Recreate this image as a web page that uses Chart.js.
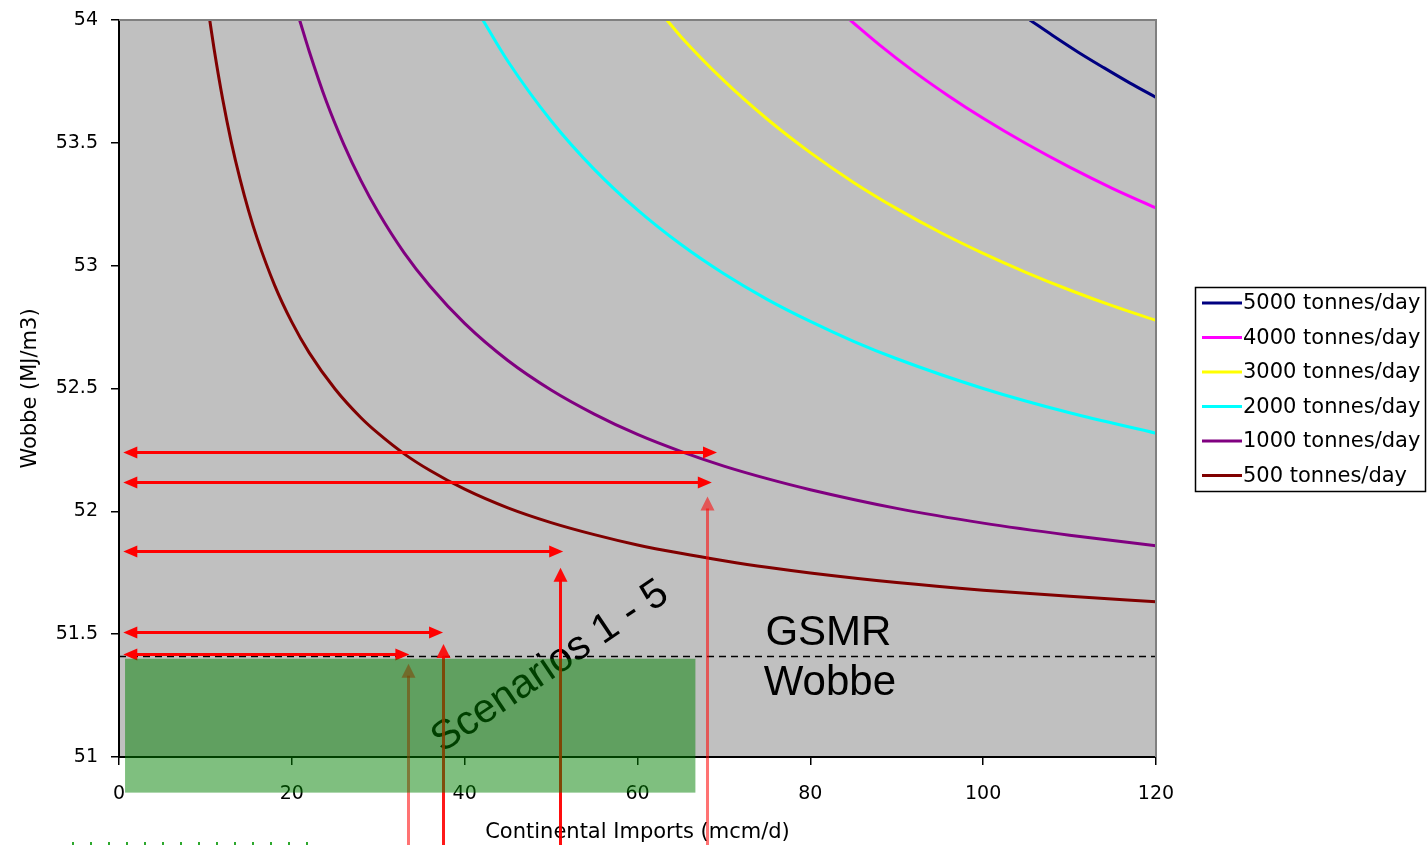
<!DOCTYPE html>
<html><head><meta charset="utf-8">
<script src="https://cdn.jsdelivr.net/npm/chart.js@4.4.1/dist/chart.umd.min.js"></script>
<style>html,body{margin:0;padding:0;background:#fff;overflow:hidden}#wrap{width:1428px;height:845px;position:relative}</style>
</head><body><div id="wrap"><canvas id="c" width="1428" height="845"></canvas></div>
<script>
// ---------- data ----------
const seriesLabels = ['5000 tonnes/day','4000 tonnes/day','3000 tonnes/day','2000 tonnes/day','1000 tonnes/day','500 tonnes/day'];
const seriesColors = ['#000080','#FF00FF','#FFFF00','#00FFFF','#800080','#800000'];

const x5000 = [105.4, 108, 111, 114, 117, 120];
const y5000 = [54.0, 53.938, 53.869, 53.805, 53.743, 53.685];

const x4000 = [84.6, 88, 92, 96, 100, 105, 110, 115, 120];
const y4000 = [54.0, 53.899, 53.790, 53.691, 53.600, 53.496, 53.401, 53.314, 53.235];

const x3000 = [63.4, 65, 70, 75, 80, 85, 90, 95, 100, 105, 110, 115, 120];
const y3000 = [54.0, 53.933, 53.753, 53.597, 53.460, 53.339, 53.232, 53.136, 53.050, 52.972, 52.901, 52.836, 52.777];

const x2000 = [42.1, 45, 50, 55, 60, 65, 70, 75, 80, 85, 90, 100, 110, 120];
const y2000 = [54.0, 53.832, 53.590, 53.392, 53.227, 53.087, 52.967, 52.863, 52.773, 52.692, 52.621, 52.500, 52.401, 52.318];

const x1000 = [20.9, 22, 24, 26, 28, 30, 33, 36, 40, 45, 50, 55, 60, 65, 70, 75, 80, 90, 100, 110, 120];
const y1000 = [54.0, 53.874, 53.668, 53.495, 53.346, 53.217, 53.052, 52.916, 52.765, 52.614, 52.494, 52.396, 52.313, 52.244, 52.184, 52.133, 52.088, 52.012, 51.952, 51.903, 51.860];

const x500 = [10.5, 11, 12, 13, 14, 15, 16, 18, 20, 22, 25, 28, 30, 33, 36, 40, 45, 50, 55, 60, 65, 70, 75, 80, 90, 100, 110, 120];
const y500 = [54.0, 53.883, 53.677, 53.502, 53.353, 53.223, 53.110, 52.921, 52.770, 52.646, 52.498, 52.381, 52.317, 52.234, 52.166, 52.090, 52.014, 51.954, 51.905, 51.863, 51.829, 51.799, 51.772, 51.749, 51.710, 51.679, 51.654, 51.632];

const seriesX = [x5000, x4000, x3000, x2000, x1000, x500];
const seriesY = [y5000, y4000, y3000, y2000, y1000, y500];

// annotation values
const gsmrWobbe = 51.41;
const hArrowStart = 0.5;
const hArrowY   = [52.24, 52.12, 51.84, 51.51, 51.42];
const hArrowEnd = [69.2, 68.6, 51.4, 37.5, 33.6];
const vArrowX   = [33.5, 37.5, 51.0, 68.0];
const vArrowTip = [51.38, 51.46, 51.77, 52.06];
const vArrowAlpha = [0.55, 0.9, 0.95, 0.55];
const scenarioBoxX = [0.7, 66.7];
const scenarioBoxY = [50.855, 51.40];

const xTicks = [0, 20, 40, 60, 80, 100, 120];
const yTicks = [51, 51.5, 52, 52.5, 53, 53.5, 54];

// ---------- chart ----------
const datasets = seriesLabels.map((lab, i) => ({
  label: lab,
  data: seriesX[i].map((x, j) => ({x: x, y: seriesY[i][j]})),
  borderColor: seriesColors[i],
  backgroundColor: seriesColors[i],
  borderWidth: 3,
  pointRadius: 0,
  cubicInterpolationMode: 'monotone',
  fill: false
}));

function arrowHead(ctx, x, y, dx, dy, len, half) {
  ctx.beginPath();
  ctx.moveTo(x, y);
  ctx.lineTo(x - dx*len - dy*half, y - dy*len + dx*half);
  ctx.lineTo(x - dx*len + dy*half, y - dy*len - dx*half);
  ctx.closePath();
  ctx.fill();
}

const overlay = {
  id: 'overlay',
  beforeDraw(chart) {
    const {ctx, chartArea: a} = chart;
    ctx.save();
    ctx.fillStyle = '#C0C0C0';
    ctx.fillRect(a.left, a.top, a.right - a.left, a.bottom - a.top);
    ctx.restore();
  },
  afterDatasetsDraw(chart) {
    const {ctx, chartArea: a} = chart;
    const xs = chart.scales.x, ys = chart.scales.y;
    const px = v => xs.getPixelForValue(v), py = v => ys.getPixelForValue(v);
    ctx.save();

    // big texts
    ctx.fillStyle = '#000';
    ctx.font = '42px "Liberation Sans", Arial, sans-serif';
    ctx.textBaseline = 'alphabetic';
    ctx.textAlign = 'left';
    ctx.fillText('GSMR', px(74.8), py(51.456));
    ctx.fillText('Wobbe', px(74.6), py(51.253));
    ctx.save();
    ctx.translate(px(37.4), py(51.015));
    ctx.rotate(-34 * Math.PI / 180);
    ctx.font = '41px "Liberation Sans", Arial, sans-serif';
    ctx.fillText('Scenarios 1 - 5', 0, 0);
    ctx.restore();

    // dashed GSMR line
    ctx.strokeStyle = '#000';
    ctx.lineWidth = 1.5;
    ctx.setLineDash([7, 5]);
    ctx.beginPath();
    ctx.moveTo(a.left, Math.round(py(gsmrWobbe)) + 0.5);
    ctx.lineTo(a.right, Math.round(py(gsmrWobbe)) + 0.5);
    ctx.stroke();
    ctx.setLineDash([]);

    // vertical arrows
    vArrowX.forEach((xv, i) => {
      const x = Math.round(px(xv)) + 0.5;
      const tip = py(vArrowTip[i]);
      ctx.strokeStyle = 'rgba(255,0,0,' + vArrowAlpha[i] + ')';
      ctx.fillStyle = 'rgba(255,0,0,' + vArrowAlpha[i] + ')';
      ctx.lineWidth = 3;
      ctx.beginPath();
      ctx.moveTo(x, 850);
      ctx.lineTo(x, tip + 12);
      ctx.stroke();
      arrowHead(ctx, x, tip, 0, -1, 14, 7);
    });

    // horizontal double arrows
    ctx.strokeStyle = '#FF0000';
    ctx.fillStyle = '#FF0000';
    ctx.lineWidth = 3;
    hArrowY.forEach((yv, i) => {
      const y = Math.round(py(yv)) + 0.5;
      const x0 = px(hArrowStart), x1 = px(hArrowEnd[i]);
      ctx.beginPath();
      ctx.moveTo(x0 + 10, y);
      ctx.lineTo(x1 - 10, y);
      ctx.stroke();
      arrowHead(ctx, x0, y, -1, 0, 14, 6);
      arrowHead(ctx, x1, y, 1, 0, 14, 6);
    });

    // translucent scenario box
    ctx.fillStyle = 'rgba(0,128,0,0.5)';
    const bx0 = px(scenarioBoxX[0]), bx1 = px(scenarioBoxX[1]);
    const by0 = py(scenarioBoxY[1]), by1 = py(scenarioBoxY[0]);
    ctx.fillRect(bx0, by0, bx1 - bx0, by1 - by0);

    // top & right border of plot area
    ctx.strokeStyle = '#808080';
    ctx.lineWidth = 2;
    ctx.beginPath();
    ctx.moveTo(a.left, a.top);
    ctx.lineTo(a.right, a.top);
    ctx.lineTo(a.right, a.bottom);
    ctx.stroke();

    // green dotted fragment at bottom
    ctx.strokeStyle = '#2EA82E';
    ctx.lineWidth = 3;
    ctx.setLineDash([2, 16]);
    ctx.beginPath();
    ctx.moveTo(72, 843.5);
    ctx.lineTo(308, 843.5);
    ctx.stroke();
    ctx.setLineDash([]);

    // legend
    ctx.strokeStyle = '#000';
    ctx.lineWidth = 1.5;
    ctx.strokeRect(1195.5, 287.5, 230, 204);
    ctx.font = '21px "DejaVu Sans", sans-serif';
    ctx.textBaseline = 'middle';
    ctx.fillStyle = '#000';
    seriesLabels.forEach((lab, i) => {
      const y = 303 + i * 34.5;
      ctx.strokeStyle = seriesColors[i];
      ctx.lineWidth = 3;
      ctx.beginPath();
      ctx.moveTo(1202, y);
      ctx.lineTo(1242, y);
      ctx.stroke();
      ctx.fillText(lab, 1243, y + 1);
    });
    ctx.restore();
  }
};

new Chart(document.getElementById('c'), {
  type: 'line',
  data: { datasets },
  options: {
    responsive: false,
    animation: false,
    devicePixelRatio: 1,
    layout: { padding: { left: 0, top: 20, right: 272, bottom: 0 } },
    plugins: { legend: { display: false }, tooltip: { enabled: false } },
    scales: {
      x: {
        type: 'linear', min: 0, max: 120,
        afterFit: s => { s.height = 88; },
        afterBuildTicks: s => { s.ticks = xTicks.map(v => ({value: v})); },
        grid: { drawOnChartArea: false, drawTicks: true, tickLength: 8, color: '#000', lineWidth: 1.5 },
        border: { display: true, color: '#000', width: 2 },
        ticks: { color: '#000', font: { family: 'DejaVu Sans', size: 19 }, padding: 18, maxRotation: 0, autoSkip: false },
        title: { display: true, text: 'Continental Imports (mcm/d)', color: '#000',
                 font: { family: 'DejaVu Sans', size: 21 }, padding: { top: 0, bottom: 0 } }
      },
      y: {
        type: 'linear', min: 51, max: 54,
        afterFit: s => { s.width = 119; s.paddingTop = 0; s.paddingBottom = 0; },
        afterBuildTicks: s => { s.ticks = yTicks.map(v => ({value: v})); },
        grid: { drawOnChartArea: false, drawTicks: true, tickLength: 8, color: '#000', lineWidth: 1.5 },
        border: { display: true, color: '#000', width: 2 },
        ticks: { color: '#000', font: { family: 'DejaVu Sans', size: 19 }, padding: 13, autoSkip: false,
                 callback: v => String(Math.round(v * 10) / 10) },
        title: { display: true, text: 'Wobbe (MJ/m3)', color: '#000',
                 font: { family: 'DejaVu Sans', size: 21 }, padding: { top: 18, bottom: 0 } }
      }
    }
  },
  plugins: [overlay]
});
</script>
</body></html>
